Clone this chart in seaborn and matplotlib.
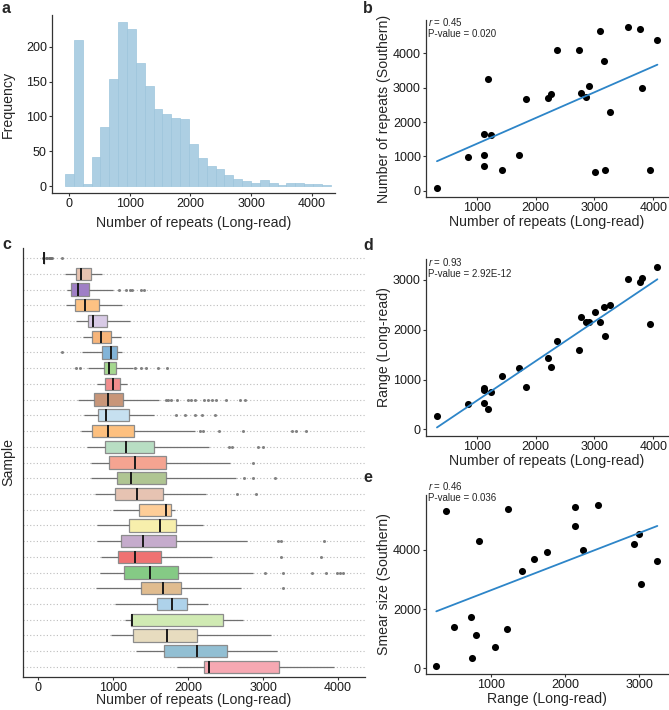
import numpy as np
import pandas as pd
import matplotlib
matplotlib.use("Agg")
import matplotlib.pyplot as plt
import seaborn as sns

# ---------------- data ----------------
# panel a: histogram (bin start, width, counts)
hist_start = -66
hist_width = 146
hist_counts = [17, 209, 3, 41, 85, 153, 235, 225, 176, 143, 111, 103, 97, 96, 60,
               40, 29, 25, 16, 10, 7, 4, 9, 4, 1, 4, 4, 3, 3, 1]

# panel b / d: number of repeats (long-read)
repeats_lr = [325, 860, 1120, 1128, 1128, 1187, 1240, 1425, 1720, 1835, 2208, 2260, 2360,
              2730, 2768, 2860, 2904, 3004, 3100, 3157, 3176, 3256, 3567, 3768, 3810, 3935, 4068]
repeats_southern = [87, 971, 1660, 1049, 728, 3243, 1631, 612, 1039, 2660, 2709, 2806, 4087,
                    4097, 2845, 2728, 3039, 534, 4650, 3786, 592, 2291, 4777, 4718, 3000, 592, 4379]
range_lr = [275, 516, 529, 790, 824, 409, 750, 1078, 1239, 857, 1433, 1246, 1768,
            1594, 2250, 2157, 2157, 2364, 2150, 2458, 1882, 2492, 3027, 2954, 3048, 2117, 3262]
b_text = ["r", " = 0.45", "P-value = 0.020"]
d_text = ["r", " = 0.93", "P-value = 2.92E-12"]
e_text = ["r", " = 0.46", "P-value = 0.036"]

# panel e: range (long-read) vs smear size (southern)
range_e = [263, 398, 497, 735, 749, 798, 838, 1058, 1220, 1229, 1418, 1575, 1751,
           2128, 2137, 2236, 2438, 2928, 3000, 3027, 3243]
smear_e = [79, 5322, 1401, 1729, 328, 1107, 4305, 700, 1333, 5401, 3299, 3706, 3944,
           5458, 4825, 4000, 5537, 4192, 4554, 2836, 3616]

# panel c: per-sample box statistics
box_lo = [65, 356, 380, 378, 502, 600, 591, 667, 787, 538, 613, 569, 653, 702, 711, 756,
          1000, 787, 783, 836, 827, 773, 1022, 1156, 969, 1311, 1849]
box_q1 = [78, 511, 444, 489, 667, 720, 853, 880, 893, 751, 804, 720, 893, 947, 1053, 1027,
          1347, 1213, 1107, 1071, 1151, 1369, 1587, 1236, 1267, 1680, 2209]
box_med = [80, 578, 533, 631, 733, 844, 969, 947, 996, 929, 907, 929, 1178, 1289, 1244, 1320,
           1711, 1622, 1404, 1293, 1498, 1671, 1782, 1258, 1724, 2116, 2284]
box_q3 = [85, 711, 680, 813, 920, 978, 1053, 1036, 1093, 1129, 1209, 1284, 1547, 1707, 1707, 1667,
          1778, 1844, 1836, 1640, 1871, 1907, 1991, 2471, 2116, 2516, 3213]
box_hi = [95, 858, 1000, 1120, 1222, 1111, 1120, 1260, 1182, 1618, 1547, 2089, 2280, 2556, 2636, 2244,
          1827, 2200, 2782, 2316, 2862, 2700, 2271, 2738, 3107, 3182, 3947]
box_out = [
    [110, 125, 140, 155, 170, 190, 325],
    [],
    [1080, 1170, 1222, 1258, 1378, 1409],
    [], [], [],
    [320],
    [502, 556, 1289, 1378, 1436, 1600, 1720],
    [],
    [1707, 1730, 1769, 1849, 2004, 2040, 2093, 2213, 2260, 2320, 2373, 2507, 2693, 2764],
    [1836, 1964, 2093, 2191, 2360],
    [2160, 2200, 2418, 2738, 3382, 3440, 3573],
    [2540, 2591, 2933, 3000],
    [2860],
    [2742, 2867, 3156],
    [2653, 2902],
    [], [],
    [3196, 3243, 3813],
    [3240, 3773],
    [3022, 3267, 3649, 3836, 3982, 4030, 4071],
    [3262],
    [], [], [], [], [],
]
box_colors = ["#9a9a9a", "#E8C3B0", "#9F7FC6", "#FDC283", "#D8CAE6", "#F7B57A", "#82B4D8",
              "#A5D88F", "#F18D8D", "#C89679", "#C6E0F0", "#FDC07F", "#B8DEC3", "#F5A491",
              "#AFC592", "#E6C3B2", "#FDCD98", "#F7EFAC", "#C5ABCC", "#EF7272", "#85CA85",
              "#E0BC8F", "#AED2EA", "#D0EAB3", "#E7DCBF", "#92BFD3", "#F6A8B2"]
samples = [f"S{i+1}" for i in range(len(box_lo))]

# ---------------- style ----------------
sns.set_theme(style="white")
plt.rcParams["font.family"] = ["Liberation Sans", "DejaVu Sans"]
plt.rcParams["mathtext.fontset"] = "custom"
plt.rcParams["mathtext.rm"] = "Liberation Sans"
plt.rcParams["mathtext.it"] = "Liberation Sans:italic"

W, H = 669, 710
fig = plt.figure(figsize=(W / 100, H / 100), dpi=100)


def rect(L, T, R, B):
    return [L / W, 1 - B / H, (R - L) / W, (B - T) / H]


TICK_FS = 9
LAB_FS = 10.2
SPINE_C = "#333333"


def style(ax):
    sns.despine(ax=ax)
    for s in ["left", "bottom"]:
        ax.spines[s].set_color(SPINE_C)
        ax.spines[s].set_linewidth(0.9)
    ax.tick_params(axis="both", which="both", direction="out", length=2.5, width=0.8,
                   color=SPINE_C, labelsize=TICK_FS, labelcolor="#1a1a1a", pad=1.2,
                   left=True, bottom=True)


def labels(ax, xl, yl, xpx, ypx, bottom, left, height, width):
    ax.set_xlabel(xl, fontsize=LAB_FS)
    ax.set_ylabel(yl, fontsize=LAB_FS)
    ax.xaxis.set_label_coords(0.5, -(xpx - bottom) / height)
    ax.xaxis.label.set_va("center")
    ax.yaxis.set_label_coords((ypx - left) / width, 0.5)
    ax.yaxis.label.set_va("center")


# ---------------- panel a ----------------
axa = fig.add_axes(rect(52, 15, 335, 193))
edges = [hist_start + hist_width * i for i in range(len(hist_counts) + 1)]
centers = [hist_start + hist_width * (i + 0.5) for i in range(len(hist_counts))]
sns.histplot(x=centers, weights=hist_counts, bins=edges, ax=axa,
             color="#A9CDE2", edgecolor="#9DC5DC", linewidth=0.5, alpha=0.95)
axa.set_xlim(-280, 4384)
axa.set_ylim(-10, 245.5)
axa.set_xticks([0, 1000, 2000, 3000, 4000])
axa.set_yticks([0, 50, 100, 150, 200])
style(axa)
labels(axa, "Number of repeats (Long-read)", "Frequency", 223, 8, 193, 52, 178, 283)

# ---------------- scatter panels ----------------
LINE_C = "#2D85C8"


def scatter_panel(r, x, y, xlim, ylim, xticks, yticks, xl, yl, xpx, txt, tpos):
    ax = fig.add_axes(rect(*r))
    sns.regplot(x=x, y=y, ci=None, ax=ax,
                scatter_kws={"s": 26, "color": "black", "linewidths": 0, "alpha": 1},
                line_kws={"color": LINE_C, "lw": 1.3})
    ax.set_xlim(*xlim)
    ax.set_ylim(*ylim)
    ax.set_xticks(xticks)
    ax.set_yticks(yticks)
    style(ax)
    L, T, R, B = r
    labels(ax, xl, yl, xpx, 384, B, L, B - T, R - L)
    tx, ty = tpos
    fig.text(tx / W, 1 - ty / H, f"${txt[0]}$" + txt[1], fontsize=7, va="baseline", ha="left")
    fig.text(tx / W, 1 - (ty + 11) / H, txt[2], fontsize=7, va="baseline", ha="left")
    return ax


scatter_panel((426, 20, 668, 197), repeats_lr, repeats_southern, (139, 4248), (-183, 4969),
              [1000, 2000, 3000, 4000], [0, 1000, 2000, 3000, 4000],
              "Number of repeats (Long-read)", "Number of repeats (Southern)", 222,
              b_text, (428, 26))
scatter_panel((426, 259, 668, 436), repeats_lr, range_lr, (139, 4248), (-135, 3421),
              [1000, 2000, 3000, 4000], [0, 1000, 2000, 3000],
              "Number of repeats (Long-read)", "Range (Long-read)", 461,
              d_text, (428, 266))
scatter_panel((426, 495, 668, 674), range_e, smear_e, (124, 3387), (-203, 5864),
              [1000, 2000, 3000], [0, 2000, 4000],
              "Range (Long-read)", "Smear size (Southern)", 699,
              e_text, (428, 490))

# ---------------- panel c ----------------
axc = fig.add_axes(rect(23, 248, 365, 677))
M = 30
rows = []
for s, lo, q1, md, q3, hi, outs in zip(samples, box_lo, box_q1, box_med, box_q3, box_hi, box_out):
    vals = [lo] + [q1] * M + [md] * M + [q3] * M + [hi] + list(outs)
    rows += [(s, v) for v in vals]
df = pd.DataFrame(rows, columns=["sample", "value"])
axc.set_axisbelow(True)
sns.boxplot(data=df, x="value", y="sample", hue="sample", palette=box_colors, orient="h",
            width=0.78, saturation=1, linecolor="#8C8C8C", linewidth=0.9, fliersize=2.2,
            showcaps=False, legend=False, ax=axc,
            medianprops={"color": "#1a1a1a", "linewidth": 1.4},
            whiskerprops={"color": "#707070"},
            flierprops={"marker": "o", "markerfacecolor": "#707070",
                        "markeredgecolor": "none", "alpha": 0.85})
axc.set_xlim(-200, 4360)
axc.set_ylim(26.64, -0.64)
axc.set_xticks([0, 1000, 2000, 3000, 4000])
axc.set_yticklabels([])
style(axc)
axc.tick_params(axis="y", length=0)
axc.grid(axis="y", linestyle=(0, (1, 2)), color="#BDBDBD", linewidth=0.8)
axc.grid(axis="x", visible=False)
labels(axc, "Number of repeats (Long-read)", "Sample", 700, 8, 677, 23, 429, 342)

# ---------------- panel letters ----------------
for letter, (x, y) in {"a": (2, 13), "b": (363, 13), "c": (2, 249), "d": (363, 250),
                       "e": (363, 482)}.items():
    fig.text(x / W, 1 - y / H, letter, fontsize=11.5, fontweight="bold", va="baseline")

fig.savefig("out.png", dpi=100)
